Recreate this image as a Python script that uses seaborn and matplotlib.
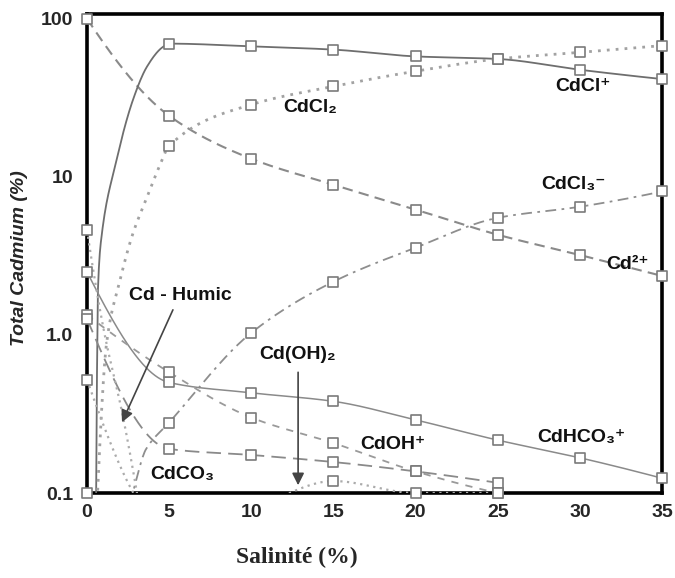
import numpy as np
import pandas as pd
import matplotlib
matplotlib.use("Agg")
import matplotlib.pyplot as plt
from matplotlib.ticker import NullLocator, FixedLocator, FixedFormatter
import seaborn as sns

# ---- data: % of total cadmium versus salinity -------------------------
salinity = [0, 5, 10, 15, 20, 25, 30, 35]

cd_free = [100, 24.3, 13.0, 8.9, 6.2, 4.3, 3.2, 2.36]

cdcl_sal = [0.55, 0.67, 0.91, 1.7, 2.8, 3.65, 4.6, 5, 10, 15, 20, 25, 30, 35]
cdcl = [0.08, 2.0, 4.4, 11.6, 30.7, 49.7, 66.0, 69.5, 66.8, 63.7, 57.7, 55.6, 47.5, 41.5]

cdcl2_sal = [0.6, 1.2, 2.0, 2.8, 3.6, 4.4, 5, 10, 15, 20, 25, 30, 35]
cdcl2 = [0.08, 0.9, 2.2, 4.4, 7.2, 11.6, 15.7, 28.6, 37.3, 46.5, 55.6, 61.2, 67.5]

cdcl3_sal = [0, 2.3, 3.6, 5, 10, 15, 20, 25, 30, 35]
cdcl3 = [0.1, 0.08, 0.19, 0.279, 1.03, 2.17, 3.56, 5.5, 6.46, 8.07]

cdhco3 = [2.5, 0.50, 0.43, 0.38, 0.29, 0.216, 0.167, 0.124]

cdoh_sal = [0, 5, 10, 15, 20, 25]
cdoh = [1.34, 0.58, 0.30, 0.207, 0.137, 0.1]

cdco3_sal = [0, 5, 10, 15, 20, 25]
cdco3 = [1.26, 0.19, 0.174, 0.157, 0.137, 0.116]

cdoh2_sal = [0, 5, 10, 15, 20, 25]
cdoh2 = [0.52, 0.06, 0.08, 0.119, 0.1, 0.1]

humic_sal = [0, 1.0, 2.2, 3.2]
humic = [4.6, 1.1, 0.3, 0.08]

label_text = ["CdCl₂", "CdCl⁺", "CdCl₃⁻", "Cd²⁺", "Cd - Humic",
              "Cd(OH)₂", "CdOH⁺", "CdHCO₃⁺", "CdCO₃"]
label_x = [13.6, 30.2, 29.6, 32.9, 5.7, 12.8, 18.6, 30.1, 5.8]
label_y = [27.4, 37.0, 8.9, 2.77, 1.77, 0.75, 0.204, 0.223, 0.13]

x_ticks = [0, 5, 10, 15, 20, 25, 30, 35]
y_ticks = [0.1, 1, 10, 100]
y_tick_labels = ["0.1", "1.0", "10", "100"]


# ---- smooth monotone curve through the points (in log space) ---------
def pchip(xk, yk, xs):
    xk = np.asarray(xk, float)
    yk = np.asarray(yk, float)
    n = len(xk)
    h = np.diff(xk)
    d = np.diff(yk) / h
    m = np.zeros(n)
    if n == 2:
        m[:] = d[0]
    else:
        for i in range(1, n - 1):
            if d[i - 1] * d[i] <= 0:
                m[i] = 0.0
            else:
                w1 = 2 * h[i] + h[i - 1]
                w2 = h[i] + 2 * h[i - 1]
                m[i] = (w1 + w2) / (w1 / d[i - 1] + w2 / d[i])

        def end(h0, h1, d0, d1):
            v = ((2 * h0 + h1) * d0 - h0 * d1) / (h0 + h1)
            if np.sign(v) != np.sign(d0):
                return 0.0
            if np.sign(d0) != np.sign(d1) and abs(v) > 3 * abs(d0):
                return 3 * d0
            return v

        m[0] = end(h[0], h[1], d[0], d[1])
        m[-1] = end(h[-1], h[-2], d[-1], d[-2])
    xs = np.asarray(xs, float)
    idx = np.clip(np.searchsorted(xk, xs) - 1, 0, n - 2)
    t = (xs - xk[idx]) / h[idx]
    h00 = 2 * t**3 - 3 * t**2 + 1
    h10 = t**3 - 2 * t**2 + t
    h01 = -2 * t**3 + 3 * t**2
    h11 = t**3 - t**2
    return (h00 * yk[idx] + h10 * h[idx] * m[idx]
            + h01 * yk[idx + 1] + h11 * h[idx] * m[idx + 1])


sns.set_theme(style="white")
plt.rcParams["font.family"] = ["Liberation Sans", "DejaVu Sans"]

fig = plt.figure(figsize=(6.75, 5.78), dpi=100)
ax = fig.add_axes([87 / 675, 1 - 493 / 578, 575 / 675, 479 / 578])

series = [
    (salinity, cd_free, "#8a8a8a", 1.5, (0, (5, 3))),
    (cdcl_sal, cdcl, "#6e6e6e", 1.3, "-"),
    (cdcl2_sal, cdcl2, "#a2a2a2", 2.0, (0, (1, 2.2))),
    (cdcl3_sal, cdcl3, "#8e8e8e", 1.3, (0, (6, 3, 1.5, 3))),
    (salinity, cdhco3, "#8a8a8a", 1.1, "-"),
    (cdoh_sal, cdoh, "#9a9a9a", 1.3, (0, (4, 4))),
    (cdco3_sal, cdco3, "#8a8a8a", 1.3, (0, (8, 4))),
    (cdoh2_sal, cdoh2, "#ababab", 1.6, (0, (1, 2))),
    (humic_sal, humic, "#adadad", 1.6, (0, (1, 2))),
]

for xs_pts, ys_pts, color, lw, ls in series:
    xd = np.linspace(xs_pts[0], xs_pts[-1], 600)
    yd = 10 ** pchip(xs_pts, np.log10(ys_pts), xd)
    curve = pd.DataFrame({"s": xd, "v": yd})
    sns.lineplot(data=curve, x="s", y="v", ax=ax, color=color, lw=lw,
                 linestyle=ls, estimator=None, sort=False, zorder=3)
    pts = pd.DataFrame({"s": xs_pts, "v": ys_pts})
    pts = pts[(pts["s"] % 5 == 0) & (pts["v"] >= 0.0999)]
    sns.scatterplot(data=pts, x="s", y="v", ax=ax, marker="s", s=42,
                    facecolor="white", edgecolor="#7a7a7a", linewidth=1.2,
                    zorder=6, clip_on=False)

ax.set_yscale("log")
ax.set_xlim(0, 35)
ax.set_ylim(0.1, 107)
ax.yaxis.set_major_locator(FixedLocator(y_ticks))
ax.yaxis.set_major_formatter(FixedFormatter(y_tick_labels))
ax.yaxis.set_minor_locator(NullLocator())
ax.set_xticks(x_ticks)
ax.set_xticklabels([str(v) for v in x_ticks])

for sp in ax.spines.values():
    sp.set_visible(True)
    sp.set_color("black")
    sp.set_linewidth(2.6)

ax.tick_params(axis="x", direction="in", length=4, width=1, color="#888888",
               pad=8, labelsize=14)
ax.tick_params(axis="y", length=0, pad=10, labelsize=14)
for lab in ax.get_xticklabels() + ax.get_yticklabels():
    lab.set_fontweight("bold")

ax.set_xlabel("")
ax.set_ylabel("Total Cadmium (%)", fontsize=14, fontweight="bold",
              fontstyle="italic")
ax.yaxis.set_label_coords(-0.102, 0.49)

fig.text(297 / 675, 1 - 557 / 578, "Salinité (%)", ha="center", va="center",
         fontsize=17, fontweight="bold", family=["Liberation Serif", "DejaVu Serif"])

for txt, tx, ty in zip(label_text, label_x, label_y):
    ax.text(tx, ty, txt, ha="center", va="center", fontsize=14,
            fontweight="bold", color="#111111", zorder=7)

arrow = dict(arrowstyle="-|>", color="#444444", lw=1.2, mutation_scale=18,
             shrinkA=0, shrinkB=0)
ax.annotate("", xy=(2.13, 0.28), xytext=(5.23, 1.44), arrowprops=arrow, zorder=7)
ax.annotate("", xy=(12.85, 0.112), xytext=(12.85, 0.58), arrowprops=arrow, zorder=7)

fig.savefig("out.png", dpi=100)
